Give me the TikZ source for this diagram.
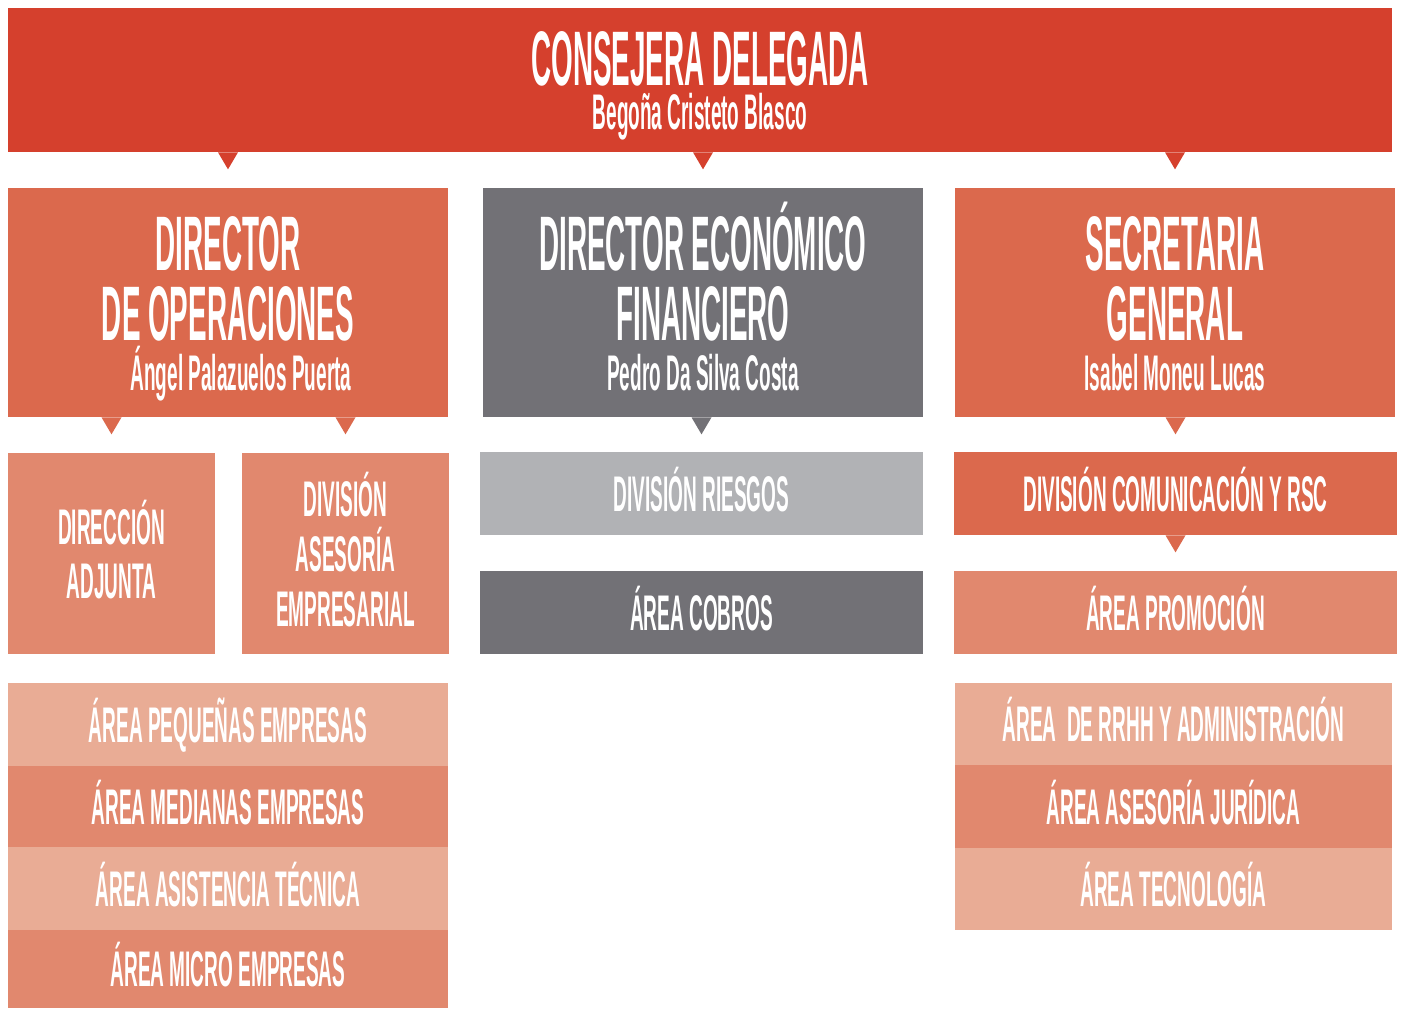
\documentclass[tikz,border=0pt]{standalone}
\usepackage{fontspec}
\setmainfont{Liberation Sans}[FakeStretch=0.36]
\newfontfamily\fuentechica{Liberation Sans}[FakeStretch=0.38]

\definecolor{rojo}{HTML}{D5402D}
\definecolor{naranja}{HTML}{DB694D}
\definecolor{salmon}{HTML}{E1886E}
\definecolor{claro}{HTML}{E9AC95}
\definecolor{gris}{HTML}{727176}
\definecolor{grisclaro}{HTML}{B1B2B5}

\newcommand{\grande}{\fontsize{44}{39.7}\selectfont\bfseries}
\newcommand{\chica}{\fuentechica\fontsize{28.5}{31.2}\selectfont\bfseries}
\newcommand{\pico}[3]{\fill[#1] (#2.south -| #3.north) ++(-10,0) -- ++(20,0) -- ++(-10,17) -- cycle;}

\tikzset{
  caja/.style={rectangle, inner sep=0pt, text=white, align=center, font=\chica, text height=20.4pt, text depth=0pt},
  titulo/.style={font=\grande, text height=99.7pt, minimum width=8.8cm, minimum height=4.58cm},
  fila/.style={minimum width=8.86cm, minimum height=1.66cm},
}

\begin{document}
\begin{tikzpicture}[x=0.02cm, y=-0.02cm]
    \useasboundingbox[fill=white] (0,0) rectangle (1402,1008);

    \node[caja, titulo, fill=rojo, minimum width=27.68cm, minimum height=2.88cm, text height=56.7pt] (consejera) at (700,80) {CONSEJERA DELEGADA\\[-14.7pt]{\chica Begoña Cristeto Blasco}};

    \node[caja, titulo, fill=naranja] (dirop) at (228,302.5) {DIRECTOR\\DE OPERACIONES\\[-11.3pt]{\chica\hspace*{0.52cm}Ángel Palazuelos Puerta}};
    \node[caja, titulo, fill=gris] (direco) at (703,302.5) {DIRECTOR ECONÓMICO\\FINANCIERO\\[-11.3pt]{\chica Pedro Da Silva Costa}};
    \node[caja, titulo, fill=naranja] (secgen) at (1175,302.5) {SECRETARIA\\GENERAL\\[-11.3pt]{\chica Isabel Moneu Lucas}};

    \node[caja, fill=salmon, minimum width=4.14cm, minimum height=4.02cm, text height=51.6pt] (adjunta) at (111.5,553.5) {DIRECCIÓN\\ADJUNTA};
    \node[caja, fill=salmon, minimum width=4.14cm, minimum height=4.02cm, text height=82.8pt] (asesoria) at (345.5,553.5) {DIVISIÓN\\ASESORÍA\\EMPRESARIAL};
    \node[caja, fila, fill=grisclaro] (riesgos) at (701.5,493.5) {DIVISIÓN RIESGOS};
    \node[caja, fila, fill=gris] (cobros) at (701.5,612.5) {ÁREA COBROS};
    \node[caja, fila, fill=naranja] (comunic) at (1175.5,493.5) {DIVISIÓN COMUNICACIÓN Y RSC};
    \node[caja, fila, fill=salmon] (promocion) at (1175.5,612.5) {ÁREA PROMOCIÓN};

    \node[caja, fila, fill=claro, minimum width=8.8cm] (pequenas) at (228,724.5) {ÁREA PEQUEÑAS EMPRESAS};
    \node[caja, fila, fill=salmon, minimum width=8.8cm, minimum height=1.62cm] (medianas) at (228,806.5) {ÁREA MEDIANAS EMPRESAS};
    \node[caja, fila, fill=claro, minimum width=8.8cm] (asistencia) at (228,888.5) {ÁREA ASISTENCIA TÉCNICA};
    \node[caja, fila, fill=salmon, minimum width=8.8cm, minimum height=1.56cm] (micro) at (228,969) {ÁREA MICRO EMPRESAS};

    \node[caja, fila, fill=claro, minimum width=8.74cm, minimum height=1.64cm] (rrhh) at (1173.5,724) {ÁREA~ DE RRHH Y ADMINISTRACIÓN};
    \node[caja, fila, fill=salmon, minimum width=8.74cm] (juridica) at (1173.5,806.5) {ÁREA ASESORÍA JURÍDICA};
    \node[caja, fila, fill=claro, minimum width=8.74cm, minimum height=1.64cm] (tecnologia) at (1173.5,889) {ÁREA TECNOLOGÍA};

    \pico{rojo}{consejera}{dirop}
    \pico{rojo}{consejera}{direco}
    \pico{rojo}{consejera}{secgen}
    \pico{naranja}{dirop}{adjunta}
    \pico{naranja}{dirop}{asesoria}
    \pico{gris}{direco}{riesgos}
    \pico{naranja}{secgen}{comunic}
    \pico{naranja}{comunic}{promocion}
\end{tikzpicture}
\end{document}
